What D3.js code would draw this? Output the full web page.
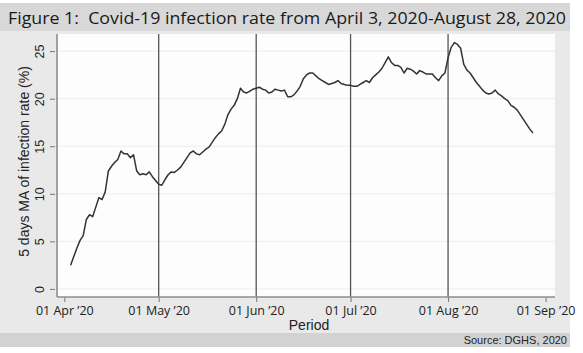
<!DOCTYPE html>
<html>
<head>
<meta charset="utf-8">
<script src="https://cdn.jsdelivr.net/npm/d3@7"></script>
<style>
  body { margin: 0; background: #fff; }
  svg { display: block; }
</style>
</head>
<body>
<div id="chart"></div>
<script>
// 5-day moving average of the infection rate, one value per day from April 3, 2020
const startDate = Date.UTC(2020, 3, 3);
const rateValues = [
  2.5, 3.4, 4.3, 5.1, 5.6, 7.3, 7.8, 7.6, 8.6, 9.6, 9.4, 10.2, 12.4, 12.9, 13.3, 13.6,
  14.5, 14.2, 14.2, 13.8, 14.1, 12.4, 12.0, 12.1, 12.0, 12.3, 11.8, 11.4, 11.0, 10.9,
  11.5, 12.0, 12.3, 12.25, 12.5, 12.8, 13.3, 13.8, 14.3, 14.5, 14.2, 14.1, 14.4, 14.7,
  14.9, 15.4, 15.9, 16.3, 16.6, 17.3, 18.3, 18.9, 19.3, 20.0, 21.1, 20.7, 20.6, 20.8,
  21.0, 21.1, 21.2, 21.0, 20.9, 20.6, 20.7, 21.0, 20.9, 20.8, 20.9, 20.2, 20.2, 20.4,
  20.8, 21.3, 22.1, 22.5, 22.7, 22.7, 22.4, 22.1, 21.9, 21.7, 21.5, 21.6, 21.7, 21.9,
  21.6, 21.5, 21.4, 21.4, 21.3, 21.3, 21.5, 21.7, 21.9, 21.7, 22.2, 22.5, 22.8, 23.2,
  23.8, 24.4, 23.8, 23.5, 23.5, 23.3, 22.7, 23.2, 23.1, 22.9, 22.6, 22.95, 22.8, 22.6,
  22.6, 22.6, 22.2, 21.9, 22.4, 22.7, 24.3, 25.4, 25.9, 25.7, 25.3, 23.6, 23.0, 22.7,
  22.2, 21.7, 21.3, 20.9, 20.6, 20.5, 20.6, 20.9, 20.5, 20.3, 20.0, 19.8, 19.3, 19.1,
  18.8, 18.3, 17.8, 17.3, 16.8, 16.4
];
const yTicks = [0, 5, 10, 15, 20, 25];
const xTickDates = [
  Date.UTC(2020, 3, 1), Date.UTC(2020, 4, 1), Date.UTC(2020, 5, 1),
  Date.UTC(2020, 6, 1), Date.UTC(2020, 7, 1), Date.UTC(2020, 8, 1)
];
const xLineDates = [
  Date.UTC(2020, 4, 1), Date.UTC(2020, 5, 1), Date.UTC(2020, 6, 1), Date.UTC(2020, 7, 1)
];
const monthNames = ['Jan', 'Feb', 'Mar', 'Apr', 'May', 'Jun', 'Jul', 'Aug', 'Sep', 'Oct', 'Nov', 'Dec'];

const series = rateValues.map((v, i) => ({ date: d3.utcDay.offset(new Date(startDate), i), value: v }));

const width = 583, height = 353;
const plot = { left: 57, right: 555, top: 34, bottom: 297 };

const svg = d3.select('#chart').append('svg')
  .attr('width', width).attr('height', height);

// frame: title band, body, source band
svg.append('rect').attr('x', 0).attr('y', 3).attr('width', 570).attr('height', 28).attr('fill', '#d8d8d8');
svg.append('rect').attr('x', 0).attr('y', 31).attr('width', 570).attr('height', 302).attr('fill', '#e9e9e9');
svg.append('rect').attr('x', 0).attr('y', 333).attr('width', 570).attr('height', 14).attr('fill', '#d2d2d2');

svg.append('text')
  .attr('x', 8).attr('y', 24)
  .attr('font-family', 'Open Sans, sans-serif')
  .attr('font-size', '17px')
  .attr('fill', '#1a1a1a')
  .attr('textLength', 558).attr('lengthAdjust', 'spacingAndGlyphs')
  .attr('xml:space', 'preserve')
  .text('Figure 1:  Covid-19 infection rate from April 3, 2020-August 28, 2020');

const x = d3.scaleUtc()
  .domain([new Date(Date.UTC(2020, 2, 29, 16)), new Date(Date.UTC(2020, 8, 4))])
  .range([plot.left, plot.right]);
const y = d3.scaleLinear()
  .domain([-0.85, 26.8])
  .range([plot.bottom, plot.top]);

// plot background
svg.append('rect')
  .attr('x', plot.left).attr('y', plot.top)
  .attr('width', plot.right - plot.left).attr('height', plot.bottom - plot.top)
  .attr('fill', '#fdfdfd');

// horizontal grid
svg.append('g').selectAll('line')
  .data(yTicks)
  .enter().append('line')
  .attr('x1', plot.left).attr('x2', plot.right)
  .attr('y1', d => y(d)).attr('y2', d => y(d))
  .attr('stroke', '#ececec').attr('stroke-width', 1);

// vertical month lines
svg.append('g').selectAll('line')
  .data(xLineDates)
  .enter().append('line')
  .attr('x1', d => x(d)).attr('x2', d => x(d))
  .attr('y1', plot.top).attr('y2', plot.bottom)
  .attr('stroke', '#555').attr('stroke-width', 1.3);

// y axis
const yAxis = svg.append('g')
  .attr('transform', `translate(${plot.left},0)`)
  .call(d3.axisLeft(y).tickValues(yTicks).tickSize(5).tickPadding(0).tickFormat(''));
yAxis.select('.domain').remove();
yAxis.selectAll('.tick line').attr('stroke', '#777').attr('transform', 'translate(-2,0)');
yAxis.selectAll('.tick').append('text')
  .attr('transform', 'translate(-13,0) rotate(-90)')
  .attr('text-anchor', 'middle')
  .attr('font-family', 'Liberation Sans, Arial, sans-serif')
  .attr('font-size', '12.5px')
  .attr('fill', '#222')
  .text(d => d);
svg.append('line')
  .attr('x1', plot.left).attr('x2', plot.left)
  .attr('y1', plot.top).attr('y2', plot.bottom)
  .attr('stroke', '#8c8c8c').attr('stroke-width', 1.6);

// x axis
const xAxis = svg.append('g')
  .attr('transform', `translate(0,${plot.bottom})`)
  .call(d3.axisBottom(x).tickValues(xTickDates.map(d => new Date(d))).tickSize(5).tickPadding(4)
    .tickFormat(d => `01 ${monthNames[d.getUTCMonth()]} \u201920`));
xAxis.select('.domain').remove();
xAxis.selectAll('.tick line').attr('stroke', '#777');
xAxis.selectAll('.tick text')
  .attr('font-family', 'Open Sans, sans-serif')
  .attr('font-size', '12.5px')
  .attr('fill', '#222');
svg.append('line')
  .attr('x1', plot.left).attr('x2', plot.right)
  .attr('y1', plot.bottom).attr('y2', plot.bottom)
  .attr('stroke', '#8c8c8c').attr('stroke-width', 1.6);

// series line
const line = d3.line()
  .x(d => x(d.date))
  .y(d => y(d.value));
svg.append('path')
  .datum(series)
  .attr('d', line)
  .attr('fill', 'none')
  .attr('stroke', '#333')
  .attr('stroke-width', 1.5)
  .attr('stroke-linejoin', 'round');

// axis titles
svg.append('text')
  .attr('transform', `translate(29,${(plot.top + plot.bottom) / 2 - 4}) rotate(-90)`)
  .attr('text-anchor', 'middle')
  .attr('font-family', 'Liberation Sans, Arial, sans-serif')
  .attr('font-size', '14px')
  .attr('fill', '#222')
  .text('5 days MA of infection rate (%)');

svg.append('text')
  .attr('x', (plot.left + plot.right) / 2 + 3).attr('y', 330)
  .attr('text-anchor', 'middle')
  .attr('font-family', 'Liberation Sans, Arial, sans-serif')
  .attr('font-size', '14px')
  .attr('fill', '#222')
  .text('Period');

svg.append('text')
  .attr('x', 567).attr('y', 344)
  .attr('text-anchor', 'end')
  .attr('font-family', 'Liberation Sans, Arial, sans-serif')
  .attr('font-size', '11px')
  .attr('fill', '#222')
  .text('Source: DGHS, 2020');
</script>
</body>
</html>
